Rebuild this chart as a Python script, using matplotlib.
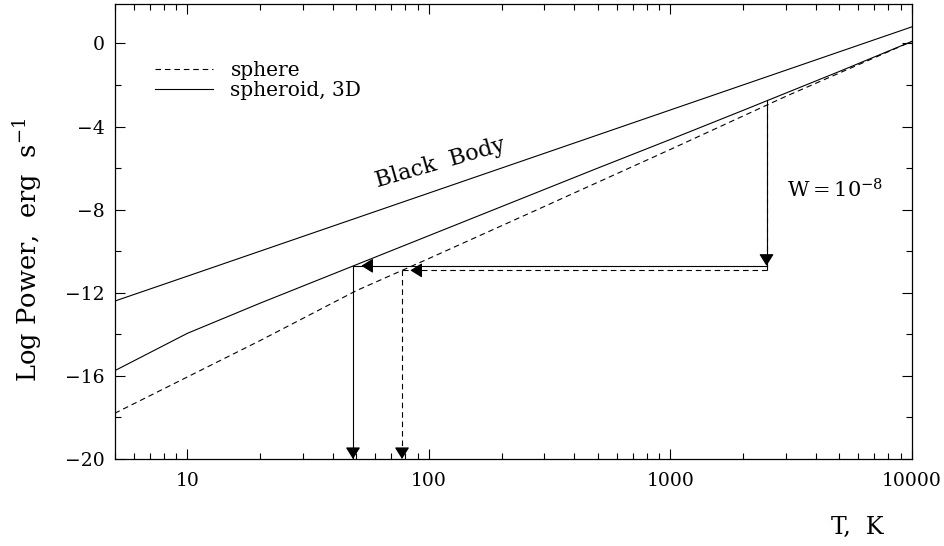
import matplotlib
matplotlib.use("Agg")
import matplotlib.pyplot as plt
from matplotlib.ticker import FixedLocator, LogLocator, NullFormatter

plt.rcParams['font.family'] = ['DejaVu Serif']
plt.rcParams['mathtext.fontset'] = 'dejavuserif'

# temperatures (K) and log power for the three curves
bb_T = [5, 10, 100, 1000, 10000]
bb_logP = [-12.4, -11.2, -7.2, -3.2, 0.8]

sphere_T = [5, 10, 20, 50, 100, 300, 1000, 3000, 10000]
sphere_logP = [-17.8, -16.05, -14.3, -11.9, -10.35, -7.85, -5.1, -2.55, 0.1]

spheroid_T = [5, 10, 20, 50, 100, 200, 500, 1000, 2000, 5000, 10000]
spheroid_logP = [-15.75, -13.95, -12.5, -10.65, -9.25, -7.85, -6.0, -4.62, -3.22, -1.35, 0.1]

T_hot = 2500
logW = -8
sphere_hot = -2.92
sphere_cold_T = 77.4
spheroid_hot = -2.70
spheroid_cold_T = 48.5

xticks = [10, 100, 1000, 10000]
xticklabels = ['10', '100', '1000', '10000']

LW = 0.8
DASH = (5, 3.5)
YMIN = -20


def head(ax, xy, offset, shrink=0):
   # draw only a filled arrow head pointing at xy, coming from offset (points)
   ax.annotate('', xy=xy, xycoords='data',
               xytext=offset, textcoords='offset points',
               arrowprops=dict(arrowstyle='-|>,head_length=0.4,head_width=0.25',
                               mutation_scale=18, lw=LW, color='black',
                               shrinkA=0, shrinkB=shrink))


def main():
   fig = plt.figure(figsize=(9.44, 5.46), dpi=100)
   ax = fig.add_axes([0.1215, 0.1593, 0.8445, 0.8334])

   ax.plot(bb_T, bb_logP, color='black', lw=LW)
   ax.plot(sphere_T, sphere_logP, color='black', lw=LW, dashes=DASH, label='sphere')
   ax.plot(spheroid_T, spheroid_logP, color='black', lw=LW, label='spheroid, 3D')

   # spheroid arrows (solid)
   sp_cold = spheroid_hot + logW
   ax.plot([T_hot, T_hot], [spheroid_hot, sp_cold], color='black', lw=LW)
   ax.plot([T_hot, spheroid_cold_T], [sp_cold, sp_cold], color='black', lw=LW)
   ax.plot([spheroid_cold_T, spheroid_cold_T], [sp_cold, YMIN], color='black', lw=LW)

   # sphere arrows (dashed)
   sh_cold = sphere_hot + logW
   ax.plot([T_hot, T_hot], [sphere_hot, sh_cold], color='black', lw=LW, dashes=DASH)
   ax.plot([T_hot, sphere_cold_T], [sh_cold, sh_cold], color='black', lw=LW, dashes=DASH)
   ax.plot([sphere_cold_T, sphere_cold_T], [sh_cold, YMIN], color='black', lw=LW, dashes=DASH)

   # arrow heads
   head(ax, (T_hot, sp_cold), (0, 7.2))
   head(ax, (spheroid_cold_T, sp_cold), (13.2, 0), shrink=6)
   head(ax, (sphere_cold_T, sh_cold), (13.2, 0), shrink=6)
   head(ax, (spheroid_cold_T, YMIN), (0, 7.2))
   head(ax, (sphere_cold_T, YMIN), (0, 7.2))

   ax.set_xscale('log')
   ax.set_xlim(5, 10000)
   ax.set_ylim(YMIN, 1.9)

   ax.xaxis.set_major_locator(FixedLocator(xticks))
   ax.set_xticklabels(xticklabels)
   ax.xaxis.set_minor_locator(LogLocator(base=10, subs=range(2, 10)))
   ax.xaxis.set_minor_formatter(NullFormatter())
   ax.yaxis.set_major_locator(FixedLocator(range(-20, 1, 4)))
   ax.yaxis.set_minor_locator(FixedLocator(range(-18, 1, 4)))
   ax.set_yticklabels(['\u221220', '\u221216', '\u221212', '\u22128', '\u22124', '0'])

   ax.tick_params(which='both', direction='in', top=True, right=True,
                  width=0.8, labelsize=13.5)
   ax.tick_params(which='major', length=7.2)
   ax.tick_params(which='minor', length=4.5)
   ax.tick_params(axis='x', pad=9)
   ax.tick_params(axis='y', pad=7)
   for s in ax.spines.values():
      s.set_linewidth(0.9)

   ax.set_ylabel('Log Power,  erg  s$^{-1}$', fontsize=18.5)
   ax.yaxis.set_label_coords(-0.089, 0.46)
   ax.set_xlabel('T,  K', fontsize=17)
   ax.xaxis.set_label_coords(0.932, -0.125)

   ax.text(0.408, 0.65, 'Black  Body', transform=ax.transAxes, fontsize=16,
           rotation=16, ha='center', va='center')
   ax.text(0.843, 0.575, r'W$=$10$^{-8}$', transform=ax.transAxes, fontsize=15,
           ha='left', va='baseline')

   ax.legend(loc='upper left', bbox_to_anchor=(0.0505, 0.875), frameon=False,
             fontsize=14.5, handlelength=2.9, handletextpad=0.85,
             labelspacing=0.05, borderpad=0, borderaxespad=0)

   fig.savefig('out.png', dpi=100)


main()
